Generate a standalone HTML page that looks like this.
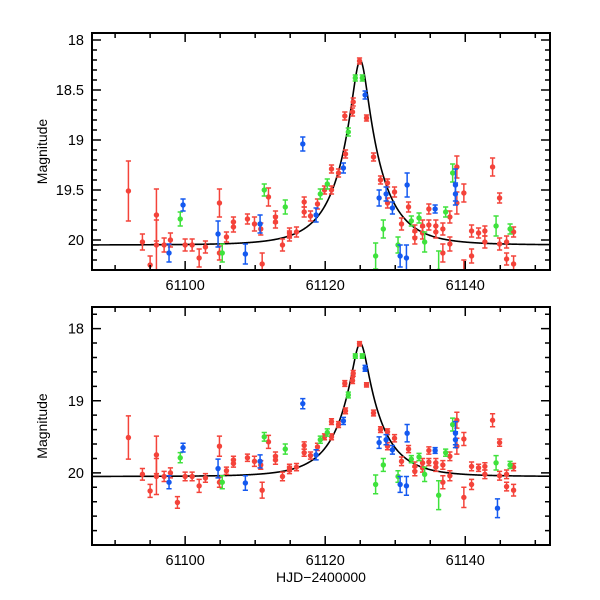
<!DOCTYPE html>
<html><head><meta charset="utf-8"><style>
html,body{margin:0;padding:0;background:#fff;}
svg{display:block;font-family:"Liberation Sans",sans-serif;}
</style></head><body>
<svg id="chart" width="600" height="600" viewBox="0 0 600 600"></svg>
<script>
// ---- data ----
const redT=[61091.9,61093.9,61095.0,61095.9,61095.9,61097.0,61097.9,61098.9,61100.0,61101.0,61102.0,61102.9,61104.9,61104.9,61105.9,61106.9,61106.9,61108.9,61109.9,61110.8,61111.0,61111.9,61112.9,61112.9,61113.9,61114.9,61114.9,61115.9,61117.0,61117.0,61117.9,61118.9,61119.9,61120.9,61120.9,61121.9,61122.9,61122.8,61123.9,61124.0,61124.9,61125.9,61126.9,61127.9,61128.9,61128.9,61129.9,61130.9,61131.9,61132.8,61132.8,61133.9,61133.9,61134.8,61134.8,61135.8,61135.8,61136.8,61136.8,61137.8,61137.8,61138.8,61138.8,61139.8,61139.8,61140.9,61140.9,61141.9,61142.8,61142.8,61143.9,61144.9,61144.9,61145.9,61145.9,61146.9,61146.9];
const redM=[19.51,20.02,20.25,19.75,20.05,20.05,20.0,20.41,20.05,20.05,20.18,20.07,19.63,20.13,19.97,19.87,19.82,19.79,19.84,19.89,20.24,19.57,19.77,19.82,20.05,19.93,19.96,19.92,19.72,19.62,19.76,19.64,19.5,19.5,19.29,19.33,19.14,18.76,18.72,18.62,18.21,18.78,19.17,19.4,19.43,19.63,19.52,19.84,19.67,19.91,19.98,19.86,19.93,19.69,19.85,19.86,19.92,20.13,19.89,20.04,19.77,19.27,19.63,19.53,20.34,19.91,20.16,19.93,19.91,20.02,19.27,19.58,20.04,20.02,20.19,20.24,19.92];
const redE=[0.30,0.08,0.09,0.26,0.25,0.07,0.07,0.08,0.06,0.06,0.09,0.06,0.14,0.07,0.05,0.05,0.05,0.05,0.07,0.06,0.11,0.09,0.06,0.06,0.06,0.05,0.05,0.05,0.05,0.05,0.05,0.05,0.04,0.04,0.04,0.04,0.04,0.04,0.04,0.04,0.03,0.03,0.04,0.04,0.04,0.05,0.05,0.06,0.05,0.06,0.06,0.06,0.06,0.05,0.05,0.06,0.06,0.09,0.06,0.07,0.06,0.11,0.11,0.09,0.14,0.06,0.07,0.05,0.05,0.06,0.09,0.05,0.06,0.06,0.06,0.08,0.05];
const greenT=[61099.3,61105.3,61111.3,61114.3,61119.3,61120.3,61123.3,61124.3,61125.3,61127.2,61128.3,61130.4,61132.3,61133.4,61134.2,61136.2,61137.2,61138.2,61144.4,61146.4];
const greenM=[19.79,20.13,19.5,19.67,19.54,19.44,18.92,18.38,18.38,20.16,19.89,20.05,19.81,19.78,20.02,20.31,19.72,19.33,19.86,19.89];
const greenE=[0.07,0.09,0.06,0.07,0.05,0.05,0.04,0.03,0.03,0.13,0.09,0.08,0.05,0.05,0.10,0.20,0.05,0.09,0.10,0.05];
const blueT=[61097.7,61099.7,61104.7,61108.6,61110.7,61116.8,61118.7,61122.6,61125.7,61127.7,61128.7,61129.6,61130.7,61131.6,61131.7,61135.7,61138.6,61138.6,61144.6];
const blueM=[20.13,19.65,19.94,20.14,19.84,19.04,19.75,19.28,18.55,19.58,19.54,19.68,20.16,20.18,19.45,19.69,19.45,19.54,20.49];
const blueE=[0.09,0.06,0.13,0.10,0.09,0.07,0.07,0.05,0.04,0.08,0.07,0.06,0.11,0.13,0.12,0.04,0.16,0.11,0.13];
const xTicks=[61100,61120,61140];
const topYTicks=[18,18.5,19,19.5,20];
const botYTicks=[18,19,20];
const modelT0=61125, modelTE=5.8, modelU0=0.185, modelBase=20.05;

const NS='http://www.w3.org/2000/svg';
const svg=document.getElementById('chart');
function mk(tag,attrs,parent){const e=document.createElementNS(NS,tag);for(const k in attrs)e.setAttribute(k,attrs[k]);(parent||svg).appendChild(e);return e;}
function model(t){const u=Math.sqrt(modelU0*modelU0+Math.pow((t-modelT0)/modelTE,2));const A=(u*u+2)/(u*Math.sqrt(u*u+4));return modelBase-2.5*Math.log10(A);}

const X0=92,X1=550,T0=61086.7,T1=61152.1;
function xs(t){return X0+(t-T0)/(T1-T0)*(X1-X0);}

function panel(name,top,bot,mTop,mBot,yTicks,yMinor,showXLabel){
  const g=mk('g',{});
  
  
  const ys=m=>top+(m-mTop)/(mBot-mTop)*(bot-top);
  const cid='clip-'+name;
  const cp=mk('clipPath',{id:cid},g);mk('rect',{x:X0,y:top,width:X1-X0,height:bot-top},cp);
  const plot=mk('g',{'clip-path':'url(#'+cid+')'},g);
  let d='';
  for(let t=T0;t<=T1;t+=0.05){d+=(d?'L':'M')+xs(t).toFixed(2)+','+ys(model(t)).toFixed(2);}
  const c=mk('path',{d:d,fill:'none',stroke:'#000','stroke-width':1.6},plot);
  
  
  const series=[['red',redT,redM,redE,'#f4433a'],['green',greenT,greenM,greenE,'#3fe23c'],['blue',blueT,blueM,blueE,'#1459f0']];
  for(const [nm,T,M,E,col] of series){
    const sg=mk('g',{},plot);
    
    
    for(let i=0;i<T.length;i++){
      const x=xs(T[i]),y=ys(M[i]),y1=ys(M[i]-E[i]),y2=ys(M[i]+E[i]);
      const pt=mk('g',{},sg);
      
      
      mk('path',{d:`M${x},${y1}V${y2}M${x-2.6},${y1}H${x+2.6}M${x-2.6},${y2}H${x+2.6}`,stroke:col,'stroke-width':1.5,fill:'none'},pt);
      mk('circle',{cx:x,cy:y,r:2.7,fill:col},pt);
    }
  }
  const fr=mk('rect',{x:X0,y:top,width:X1-X0,height:bot-top,fill:'none',stroke:'#000','stroke-width':2},g);
  
  
  let td='';
  for(let t=61090;t<=61150;t+=5){const x=xs(t);const L=(t%20===0)?9:5;td+=`M${x},${bot}v${-L}M${x},${top}v${L}`;}
  for(let m=Math.ceil(mTop/yMinor-1e-6)*yMinor;m<=mBot+1e-6;m+=yMinor){const y=ys(m);const maj=yTicks.some(v=>Math.abs(v-m)<1e-6);const L=maj?9:5;td+=`M${X0},${y}h${L}M${X1},${y}h${-L}`;}
  mk('path',{d:td,stroke:'#000','stroke-width':1.5,fill:'none'},g);
  for(const t of xTicks){
    const tx=mk('text',{x:xs(t),y:bot+20,'text-anchor':'middle','font-size':14.5,fill:'#000'},g);
    tx.textContent=t;
    
    
  }
  for(const m of yTicks){
    const ty=mk('text',{x:X0-8,y:ys(m)+5,'text-anchor':'end','font-size':14.5,fill:'#000'},g);
    ty.textContent=m;
    
    
  }
  const yl=mk('text',{x:0,y:0,transform:`translate(47,${(top+bot)/2}) rotate(-90)`,'text-anchor':'middle','font-size':14,fill:'#000'},g);
  yl.textContent='Magnitude';
  
  
  if(showXLabel){
    const xl=mk('text',{x:(X0+X1)/2,y:bot+37,'text-anchor':'middle','font-size':14,fill:'#000'},g);
    xl.textContent='HJD\u22122400000';
    
    
  }
}
panel('top-panel',33,270,17.93,20.30,topYTicks,0.1,false);
panel('bottom-panel',307,545,17.70,21.0,botYTicks,0.2,true);
</script>
</body></html>
